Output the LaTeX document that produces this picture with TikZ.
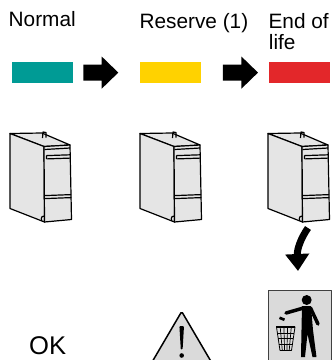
\documentclass[tikz,border=0pt]{standalone}
\usepackage{fontspec}
\setmainfont{Liberation Sans}
\usetikzlibrary{arrows.meta}

\definecolor{normalteal}{RGB}{0,155,149}
\definecolor{reserveyellow}{RGB}{255,210,0}
\definecolor{endred}{RGB}{227,39,42}
\definecolor{casegray}{RGB}{229,229,229}
\definecolor{signgray}{RGB}{218,218,218}

\tikzset{
  statetext/.style={anchor=base west,inner sep=0pt,font=\fontsize{20.8}{21}\selectfont},
  statebar/.style={rectangle,inner sep=0pt,minimum width=61pt,minimum height=21pt}
}

\begin{document}
\begin{tikzpicture}[x=1pt,y=-1pt,line join=round]
\useasboundingbox (0,0) rectangle (334,360);

% state names
\node[statetext] (tNormal) at (8.5,26.7) {Normal};
\node[statetext] (tReserve) at (139.4,28) {Reserve (1)};
\node[statetext] (tEnd) at (268.4,28) {End of};
\node[statetext] (tLife) at (268.7,49) {life};

% indicator colours
\node[statebar,fill=normalteal] (barN) at (42.2,72.2) {};
\node[statebar,fill=reserveyellow] (barR) at (170.5,72.2) {};
\node[statebar,fill=endred] (barE) at (299.5,72.2) {};

% block arrows between the states
\foreach \ax in {83.3,223} {
  \fill (\ax,64.6) -- ++(18.4,0) -- ++(0,-8.1) -- ++(16.6,16.1)
    -- ++(-16.6,16.1) -- ++(0,-8.1) -- ++(-18.4,0) -- cycle;
}

% the cartridge, once per state
\foreach \dx in {0,130,258} {
\begin{scope}[xshift=\dx pt,line width=1.2pt,fill=casegray]
  \filldraw (10,133.5) -- (42,133) -- (70,145) -- (44,146.5) -- cycle;
  \filldraw (10,133.5) -- (44,146.5) -- (44.5,222) -- (10,208.5) -- cycle;
  \filldraw (44,146.5) -- (70,145) -- (71.5,219.5) -- (44.5,222) -- cycle;
  % catch on the top
  \draw (42.5,138) -- (43,132) -- (46,132.5) -- (46,137.5);
  % front details
  \draw (44.5,149.5) -- (70.1,148);
  \draw (46.5,155.6) -- (70.2,154.8) (46.5,158.9) -- (70.2,158.1) (46.5,155.6) -- (46.5,158.9);
  \draw (44.5,195.6) -- (71.2,194.6);
  \draw (44.5,198.6) -- (71.3,197.6);
  \draw (41.5,221) .. controls (40.5,217) and (43,215) .. (44.5,216);
\end{scope}
}

% removal arrow
\coordinate (dropStart) at (308,228);
\coordinate (dropEnd) at (298,271);
\draw[line width=7pt,-{Triangle[width=23pt,length=17pt]}] (dropStart) .. controls (301,238) and (297,249) .. (dropEnd);

% result of each state
\node[anchor=base west,inner sep=0pt,font=\fontsize{25.6}{28}\selectfont] (tOK) at (29,354.5) {OK};

% warning sign
\draw[line width=1.5pt,fill=signgray,rounded corners=1.5pt] (181.7,311.5) -- (212.5,364) -- (150.9,364) -- cycle;
\fill[rounded corners=1pt] (179.4,326) -- (184,326) -- (182.6,349.5) -- (180.8,349.5) -- cycle;
\fill (181.7,355.5) circle (2.3pt);

% disposal sign
\node[draw=black!75,fill=signgray,line width=1pt,minimum width=63.5pt,minimum height=76pt,inner sep=0pt] (bin) at (300,328) {};
\fill (306.7,300) circle (5pt);
\fill (302,306) -- (311,306) -- (313,330) -- (316.5,357) -- (312.5,357) -- (307.5,334)
  -- (305,357) -- (301,357) -- (301.5,330) -- cycle;
\draw[line width=3.5pt,line cap=round] (310.5,308) -- (318,324);
\draw[line width=3.5pt,line cap=round] (303.5,308) -- (286,313);
\fill (280,316.5) -- (285,318.5) -- (284,321) -- (279,319) -- cycle;
\draw[line width=0.8pt] (276.5,327) -- (295,327) -- (291.5,350.5) -- (280,350.5) -- cycle;
\draw[line width=1.6pt] (276.5,327) -- (295,327);
\foreach \t in {0.2,0.4,0.6,0.8}
  \draw[line width=0.7pt] (276.5+18.5*\t,327) -- (280+11.5*\t,350.5);
\foreach \s in {0.25,0.5,0.75}
  \draw[line width=0.7pt] (276.5+3.5*\s,327+23.5*\s) -- (295-3.5*\s,327+23.5*\s);
\end{tikzpicture}
\end{document}
